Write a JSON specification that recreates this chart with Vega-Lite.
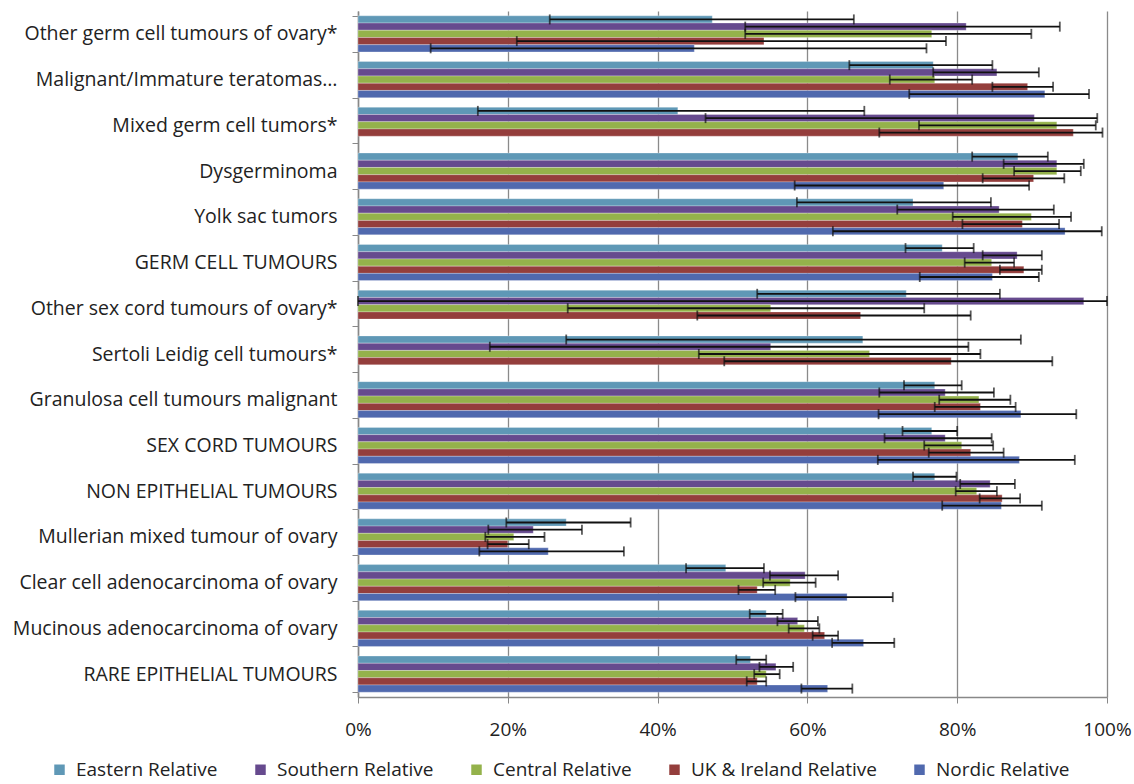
{
  "$schema": "https://vega.github.io/schema/vega-lite/v6.json",
  "width": 749,
  "height": 686,
  "autosize": "none",
  "padding": {"left": 358, "top": 11, "right": 27, "bottom": 87},
  "background": "white",
  "config": {
    "view": {"stroke": null},
    "font": "Open Sans"
  },
  "data": {
    "values": [
      {"c": "Other germ cell tumours of ovary*", "s": "Eastern Relative", "v": 47.3, "lo": 25.6, "hi": 66.2},
      {"c": "Other germ cell tumours of ovary*", "s": "Southern Relative", "v": 81.2, "lo": 51.7, "hi": 93.7},
      {"c": "Other germ cell tumours of ovary*", "s": "Central Relative", "v": 76.6, "lo": 51.7, "hi": 89.9},
      {"c": "Other germ cell tumours of ovary*", "s": "UK & Ireland Relative", "v": 54.2, "lo": 21.2, "hi": 78.5},
      {"c": "Other germ cell tumours of ovary*", "s": "Nordic Relative", "v": 44.9, "lo": 9.7, "hi": 75.9},
      {"c": "Malignant/Immature teratomas…", "s": "Eastern Relative", "v": 76.8, "lo": 65.6, "hi": 84.7},
      {"c": "Malignant/Immature teratomas…", "s": "Southern Relative", "v": 85.3, "lo": 76.8, "hi": 90.9},
      {"c": "Malignant/Immature teratomas…", "s": "Central Relative", "v": 77.0, "lo": 71.0, "hi": 82.0},
      {"c": "Malignant/Immature teratomas…", "s": "UK & Ireland Relative", "v": 89.4, "lo": 84.7, "hi": 92.8},
      {"c": "Malignant/Immature teratomas…", "s": "Nordic Relative", "v": 91.7, "lo": 73.6, "hi": 97.6},
      {"c": "Mixed germ cell tumors*", "s": "Eastern Relative", "v": 42.7, "lo": 16.0, "hi": 67.6},
      {"c": "Mixed germ cell tumors*", "s": "Southern Relative", "v": 90.3, "lo": 46.4, "hi": 98.7},
      {"c": "Mixed germ cell tumors*", "s": "Central Relative", "v": 93.3, "lo": 74.9, "hi": 98.5},
      {"c": "Mixed germ cell tumors*", "s": "UK & Ireland Relative", "v": 95.5, "lo": 69.6, "hi": 99.4},
      {"c": "Dysgerminoma", "s": "Eastern Relative", "v": 88.1, "lo": 82.0, "hi": 92.1},
      {"c": "Dysgerminoma", "s": "Southern Relative", "v": 93.3, "lo": 86.2, "hi": 96.9},
      {"c": "Dysgerminoma", "s": "Central Relative", "v": 93.3, "lo": 87.6, "hi": 96.5},
      {"c": "Dysgerminoma", "s": "UK & Ireland Relative", "v": 90.2, "lo": 83.4, "hi": 94.3},
      {"c": "Dysgerminoma", "s": "Nordic Relative", "v": 78.2, "lo": 58.3, "hi": 89.6},
      {"c": "Yolk sac tumors", "s": "Eastern Relative", "v": 74.1, "lo": 58.6, "hi": 84.5},
      {"c": "Yolk sac tumors", "s": "Southern Relative", "v": 85.6, "lo": 72.0, "hi": 92.9},
      {"c": "Yolk sac tumors", "s": "Central Relative", "v": 89.9, "lo": 79.4, "hi": 95.2},
      {"c": "Yolk sac tumors", "s": "UK & Ireland Relative", "v": 88.7, "lo": 80.7, "hi": 93.6},
      {"c": "Yolk sac tumors", "s": "Nordic Relative", "v": 94.4, "lo": 63.4, "hi": 99.3},
      {"c": "GERM CELL TUMOURS", "s": "Eastern Relative", "v": 78.0, "lo": 73.1, "hi": 82.2},
      {"c": "GERM CELL TUMOURS", "s": "Southern Relative", "v": 88.0, "lo": 83.4, "hi": 91.3},
      {"c": "GERM CELL TUMOURS", "s": "Central Relative", "v": 84.6, "lo": 81.0, "hi": 87.6},
      {"c": "GERM CELL TUMOURS", "s": "UK & Ireland Relative", "v": 88.9, "lo": 85.7, "hi": 91.3},
      {"c": "GERM CELL TUMOURS", "s": "Nordic Relative", "v": 84.7, "lo": 75.0, "hi": 90.9},
      {"c": "Other sex cord tumours of ovary*", "s": "Eastern Relative", "v": 73.2, "lo": 53.3, "hi": 85.7},
      {"c": "Other sex cord tumours of ovary*", "s": "Southern Relative", "v": 96.9, "lo": 0.0, "hi": 100.0},
      {"c": "Other sex cord tumours of ovary*", "s": "Central Relative", "v": 55.1, "lo": 28.0, "hi": 75.6},
      {"c": "Other sex cord tumours of ovary*", "s": "UK & Ireland Relative", "v": 67.1, "lo": 45.3, "hi": 81.8},
      {"c": "Sertoli Leidig cell tumours*", "s": "Eastern Relative", "v": 67.4, "lo": 27.8, "hi": 88.5},
      {"c": "Sertoli Leidig cell tumours*", "s": "Southern Relative", "v": 55.1, "lo": 17.6, "hi": 81.5},
      {"c": "Sertoli Leidig cell tumours*", "s": "Central Relative", "v": 68.3, "lo": 45.5, "hi": 83.1},
      {"c": "Sertoli Leidig cell tumours*", "s": "UK & Ireland Relative", "v": 79.2, "lo": 48.9, "hi": 92.7},
      {"c": "Granulosa cell tumours malignant", "s": "Eastern Relative", "v": 77.0, "lo": 72.9, "hi": 80.6},
      {"c": "Granulosa cell tumours malignant", "s": "Southern Relative", "v": 78.4, "lo": 69.6, "hi": 84.9},
      {"c": "Granulosa cell tumours malignant", "s": "Central Relative", "v": 82.9, "lo": 77.6, "hi": 87.1},
      {"c": "Granulosa cell tumours malignant", "s": "UK & Ireland Relative", "v": 83.1, "lo": 77.0, "hi": 87.8},
      {"c": "Granulosa cell tumours malignant", "s": "Nordic Relative", "v": 88.5, "lo": 69.5, "hi": 95.9},
      {"c": "SEX CORD TUMOURS", "s": "Eastern Relative", "v": 76.6, "lo": 72.7, "hi": 80.0},
      {"c": "SEX CORD TUMOURS", "s": "Southern Relative", "v": 78.4, "lo": 70.3, "hi": 84.6},
      {"c": "SEX CORD TUMOURS", "s": "Central Relative", "v": 80.6, "lo": 75.6, "hi": 84.8},
      {"c": "SEX CORD TUMOURS", "s": "UK & Ireland Relative", "v": 81.8, "lo": 76.2, "hi": 86.2},
      {"c": "SEX CORD TUMOURS", "s": "Nordic Relative", "v": 88.3, "lo": 69.4, "hi": 95.7},
      {"c": "NON EPITHELIAL TUMOURS", "s": "Eastern Relative", "v": 77.0, "lo": 74.1, "hi": 79.9},
      {"c": "NON EPITHELIAL TUMOURS", "s": "Southern Relative", "v": 84.4, "lo": 80.4, "hi": 87.7},
      {"c": "NON EPITHELIAL TUMOURS", "s": "Central Relative", "v": 82.6, "lo": 79.8, "hi": 85.3},
      {"c": "NON EPITHELIAL TUMOURS", "s": "UK & Ireland Relative", "v": 86.0, "lo": 83.0, "hi": 88.4},
      {"c": "NON EPITHELIAL TUMOURS", "s": "Nordic Relative", "v": 85.9, "lo": 78.0, "hi": 91.3},
      {"c": "Mullerian mixed tumour of ovary", "s": "Eastern Relative", "v": 27.8, "lo": 19.8, "hi": 36.4},
      {"c": "Mullerian mixed tumour of ovary", "s": "Southern Relative", "v": 23.4, "lo": 17.4, "hi": 29.9},
      {"c": "Mullerian mixed tumour of ovary", "s": "Central Relative", "v": 20.8, "lo": 17.0, "hi": 24.9},
      {"c": "Mullerian mixed tumour of ovary", "s": "UK & Ireland Relative", "v": 20.0, "lo": 17.3, "hi": 22.8},
      {"c": "Mullerian mixed tumour of ovary", "s": "Nordic Relative", "v": 25.4, "lo": 16.2, "hi": 35.5},
      {"c": "Clear cell adenocarcinoma of ovary", "s": "Eastern Relative", "v": 49.1, "lo": 43.8, "hi": 54.2},
      {"c": "Clear cell adenocarcinoma of ovary", "s": "Southern Relative", "v": 59.7, "lo": 55.0, "hi": 64.1},
      {"c": "Clear cell adenocarcinoma of ovary", "s": "Central Relative", "v": 57.7, "lo": 54.1, "hi": 61.1},
      {"c": "Clear cell adenocarcinoma of ovary", "s": "UK & Ireland Relative", "v": 53.3, "lo": 50.8, "hi": 55.7},
      {"c": "Clear cell adenocarcinoma of ovary", "s": "Nordic Relative", "v": 65.3, "lo": 58.4, "hi": 71.4},
      {"c": "Mucinous adenocarcinoma of ovary", "s": "Eastern Relative", "v": 54.5, "lo": 52.3, "hi": 56.7},
      {"c": "Mucinous adenocarcinoma of ovary", "s": "Southern Relative", "v": 58.7, "lo": 56.0, "hi": 61.4},
      {"c": "Mucinous adenocarcinoma of ovary", "s": "Central Relative", "v": 59.6, "lo": 57.5, "hi": 61.6},
      {"c": "Mucinous adenocarcinoma of ovary", "s": "UK & Ireland Relative", "v": 62.3, "lo": 60.7, "hi": 64.1},
      {"c": "Mucinous adenocarcinoma of ovary", "s": "Nordic Relative", "v": 67.5, "lo": 63.3, "hi": 71.6},
      {"c": "RARE EPITHELIAL TUMOURS", "s": "Eastern Relative", "v": 52.4, "lo": 50.5, "hi": 54.5},
      {"c": "RARE EPITHELIAL TUMOURS", "s": "Southern Relative", "v": 55.8, "lo": 53.6, "hi": 58.1},
      {"c": "RARE EPITHELIAL TUMOURS", "s": "Central Relative", "v": 54.5, "lo": 52.9, "hi": 56.3},
      {"c": "RARE EPITHELIAL TUMOURS", "s": "UK & Ireland Relative", "v": 53.3, "lo": 51.9, "hi": 54.5},
      {"c": "RARE EPITHELIAL TUMOURS", "s": "Nordic Relative", "v": 62.7, "lo": 59.2, "hi": 66.0}
    ]
  },
  "encoding": {
    "y": {
      "field": "c",
      "type": "nominal",
      "sort": ["Other germ cell tumours of ovary*", "Malignant/Immature teratomas…", "Mixed germ cell tumors*", "Dysgerminoma", "Yolk sac tumors", "GERM CELL TUMOURS", "Other sex cord tumours of ovary*", "Sertoli Leidig cell tumours*", "Granulosa cell tumours malignant", "SEX CORD TUMOURS", "NON EPITHELIAL TUMOURS", "Mullerian mixed tumour of ovary", "Clear cell adenocarcinoma of ovary", "Mucinous adenocarcinoma of ovary", "RARE EPITHELIAL TUMOURS"],
      "scale": {"paddingInner": 0.21, "paddingOuter": 0.105},
      "axis": {
        "title": null,
        "labelFont": "Open Sans",
        "labelFontSize": 19.5,
        "labelColor": "#222222",
        "labelPadding": 15,
        "labelLimit": 400,
        "tickBand": "extent",
        "tickSize": 6,
        "tickColor": "#888888",
        "domainColor": "#888888",
        "domainWidth": 1.5,
        "grid": false
      }
    },
    "yOffset": {
      "field": "s",
      "type": "nominal",
      "sort": ["Eastern Relative", "Southern Relative", "Central Relative", "UK & Ireland Relative", "Nordic Relative"],
      "scale": {"paddingInner": 0, "paddingOuter": 0}
    }
  },
  "layer": [
    {
      "mark": {"type": "bar", "stroke": "white", "strokeOpacity": 0.35, "strokeWidth": 0.8},
      "encoding": {
        "x": {
          "field": "v",
          "type": "quantitative",
          "scale": {"domain": [0, 100], "nice": false},
          "axis": {
            "title": null,
            "values": [0, 20, 40, 60, 80, 100],
            "labelExpr": "datum.value + '%'",
            "labelFont": "Open Sans",
            "labelFontSize": 19,
            "labelColor": "#222222",
            "labelPadding": 17,
            "labelFlush": false,
            "tickSize": 6,
            "tickColor": "#888888",
            "domainColor": "#888888",
            "domainWidth": 1.5,
            "grid": true,
            "gridColor": "#8a8a8a",
            "gridWidth": 1.3
          }
        },
        "color": {
          "field": "s",
          "type": "nominal",
          "scale": {
            "domain": ["Eastern Relative", "Southern Relative", "Central Relative", "UK & Ireland Relative", "Nordic Relative"],
            "range": ["#5f98b6", "#664a8e", "#94b24b", "#943e3c", "#5069ae"]
          },
          "legend": {
            "title": null,
            "orient": "none",
            "direction": "horizontal",
            "legendX": -308,
            "legendY": 749,
            "symbolType": "square",
            "symbolSize": 110,
            "symbolStrokeWidth": 0,
            "labelFont": "Open Sans",
            "labelFontSize": 19,
            "labelColor": "#222222",
            "labelLimit": 300,
            "labelOffset": 7,
            "columnPadding": 33,
            "symbolOffset": 0
          }
        }
      }
    },
    {
      "mark": {"type": "rule", "color": "#111111", "strokeWidth": 1.8},
      "encoding": {
        "x": {"field": "lo", "type": "quantitative"},
        "x2": {"field": "hi"}
      }
    },
    {
      "mark": {"type": "tick", "color": "#111111", "thickness": 1.8, "size": 10},
      "encoding": {
        "x": {"field": "lo", "type": "quantitative"}
      }
    },
    {
      "mark": {"type": "tick", "color": "#111111", "thickness": 1.8, "size": 10},
      "encoding": {
        "x": {"field": "hi", "type": "quantitative"}
      }
    }
  ]
}
